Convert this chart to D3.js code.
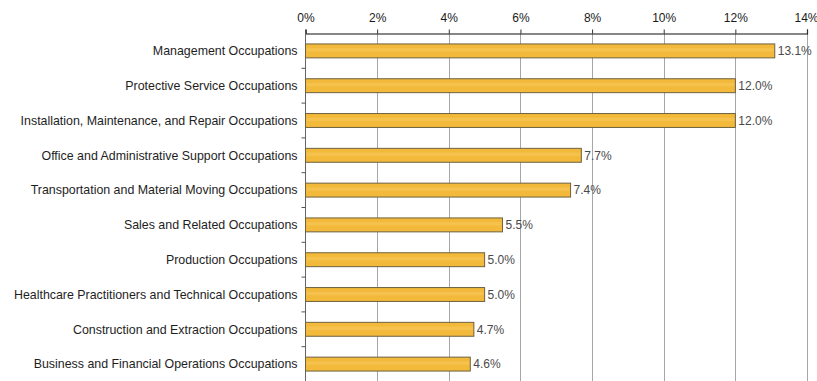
<!DOCTYPE html>
<html>
<head>
<meta charset="utf-8">
<script src="https://cdn.jsdelivr.net/npm/d3@7"></script>
<style>
  html, body { margin: 0; padding: 0; background: #ffffff; }
  svg { display: block; }
  text { font-family: "Liberation Sans", Arial, sans-serif; }
</style>
</head>
<body>
<div id="chart"></div>
<script>
// Occupation categories, top to bottom
const categories = [
  "Management Occupations",
  "Protective Service Occupations",
  "Installation, Maintenance, and Repair Occupations",
  "Office and Administrative Support Occupations",
  "Transportation and Material Moving Occupations",
  "Sales and Related Occupations",
  "Production Occupations",
  "Healthcare Practitioners and Technical Occupations",
  "Construction and Extraction Occupations",
  "Business and Financial Operations Occupations"
];

// Share of each occupation group, in percent
const values = [13.1, 12.0, 12.0, 7.7, 7.4, 5.5, 5.0, 5.0, 4.7, 4.6];

// Axis ticks (percent)
const tickValues = [0, 2, 4, 6, 8, 10, 12, 14];

const width = 817, height = 381;
const margin = { top: 33.5, right: 10, bottom: 0, left: 305.5 };

const svg = d3.select("#chart").append("svg")
  .attr("width", width)
  .attr("height", height);

const x = d3.scaleLinear()
  .domain([0, 14])
  .range([margin.left, 807]);

const y = d3.scaleBand()
  .domain(categories)
  .range([margin.top, margin.top + 34.8 * categories.length])
  .paddingInner(0.6)
  .paddingOuter(0.3);

// Vertical gridlines
svg.append("g")
  .selectAll("line")
  .data(tickValues.slice(1))
  .join("line")
  .attr("x1", d => Math.round(x(d)) + 0.5)
  .attr("x2", d => Math.round(x(d)) + 0.5)
  .attr("y1", margin.top)
  .attr("y2", height)
  .attr("stroke", "#a6a6a6")
  .attr("stroke-width", 1);

// Top axis
const xAxis = d3.axisTop(x)
  .tickValues(tickValues)
  .tickFormat(d => d + "%")
  .tickSize(4)
  .tickPadding(8);

const gx = svg.append("g")
  .attr("transform", `translate(0,${margin.top})`)
  .call(xAxis);
gx.select(".domain").attr("stroke", "#111").attr("stroke-width", 1.2);
gx.selectAll(".tick line").attr("stroke", "#333");
gx.selectAll(".tick text")
  .attr("fill", "#1a1a1a")
  .style("font-size", "12px")
  .style("font-family", "'Liberation Sans', Arial, sans-serif");
// keep the last tick label inside the frame
gx.selectAll(".tick text")
  .filter(d => d === 14)
  .attr("text-anchor", "end")
  .attr("dx", "11");

// Left category axis line and band separators
svg.append("line")
  .attr("x1", margin.left).attr("x2", margin.left)
  .attr("y1", margin.top).attr("y2", height)
  .attr("stroke", "#666").attr("stroke-width", 1);

const gap = (y.step() - y.bandwidth()) / 2;
svg.append("g")
  .selectAll("line")
  .data(categories.slice(1))
  .join("line")
  .attr("x1", margin.left - 4)
  .attr("x2", margin.left)
  .attr("y1", d => y(d) - gap)
  .attr("y2", d => y(d) - gap)
  .attr("stroke", "#555");

// Category labels
svg.append("g")
  .selectAll("text")
  .data(categories)
  .join("text")
  .attr("x", margin.left - 8)
  .attr("y", d => y(d) + y.bandwidth() / 2)
  .attr("dy", "0.35em")
  .attr("text-anchor", "end")
  .attr("fill", "#1e1e1e")
  .style("font-size", "12.4px")
  .text(d => d);

// Bars
const bars = svg.append("g")
  .selectAll("g")
  .data(categories.map((c, i) => ({ c, v: values[i] })))
  .join("g");

bars.append("rect")
  .attr("x", x(0))
  .attr("y", d => y(d.c))
  .attr("width", d => x(d.v) - x(0))
  .attr("height", y.bandwidth())
  .attr("fill", "#f2b93b")
  .attr("stroke", "#6e6240")
  .attr("stroke-width", 1);

// Soft highlight along each bar
bars.append("rect")
  .attr("x", x(0) + 1)
  .attr("y", d => y(d.c) + y.bandwidth() * 0.3)
  .attr("width", d => Math.max(0, x(d.v) - x(0) - 2))
  .attr("height", y.bandwidth() * 0.25)
  .attr("fill", "#f7c85a")
  .attr("opacity", 0.6);

// Value labels
bars.append("text")
  .attr("x", d => x(d.v) + 3)
  .attr("y", d => y(d.c) + y.bandwidth() / 2)
  .attr("dy", "0.35em")
  .attr("fill", "#4a4a4a")
  .style("font-size", "12px")
  .text(d => d.v.toFixed(1) + "%");
</script>
</body>
</html>
